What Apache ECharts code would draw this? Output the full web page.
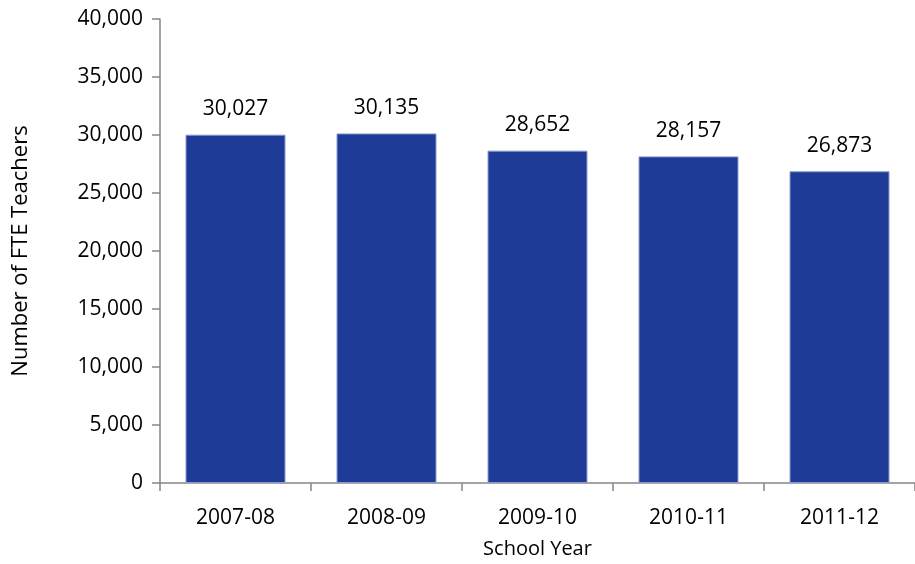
<!DOCTYPE html>
<html>
<head>
<meta charset="utf-8">
<script src="https://cdn.jsdelivr.net/npm/echarts@6/dist/echarts.min.js"></script>
<style>
html, body { margin: 0; padding: 0; background: #fff; }
#chart { width: 915px; height: 564px; }
</style>
</head>
<body>
<div id="chart"></div>
<script>
var schoolYears = ['2007-08', '2008-09', '2009-10', '2010-11', '2011-12'];
var fteTeachers = [30027, 30135, 28652, 28157, 26873];

var chart = echarts.init(document.getElementById('chart'));
var fontFam = '"Open Sans", "Liberation Sans", sans-serif';

var option = {
	backgroundColor: '#ffffff',
	animation: false,
	grid: {
		left: 160,
		right: 0,
		top: 19,
		bottom: 81,
		containLabel: false,
		outerBoundsMode: 'none'
	},
	xAxis: {
		type: 'category',
		data: schoolYears,
		name: 'School Year',
		nameLocation: 'middle',
		nameGap: 56,
		nameTextStyle: { color: '#000', fontSize: 20, fontFamily: fontFam },
		axisLine: { lineStyle: { color: '#868686', width: 1.5 } },
		axisTick: { show: true, length: 8, alignWithLabel: false, lineStyle: { color: '#868686', width: 1.5 } },
		axisLabel: { color: '#000', fontSize: 21, fontFamily: fontFam, margin: 25 }
	},
	yAxis: {
		type: 'value',
		min: 0,
		max: 40000,
		interval: 5000,
		name: 'Number of FTE Teachers',
		nameLocation: 'middle',
		nameGap: 128,
		nameTextStyle: { color: '#000', fontSize: 22, fontFamily: fontFam },
		splitLine: { show: false },
		axisLine: { show: true, lineStyle: { color: '#868686', width: 1.5 } },
		axisTick: { show: true, length: 8, lineStyle: { color: '#868686', width: 1.5 } },
		axisLabel: {
			color: '#000',
			fontSize: 21,
			fontFamily: fontFam,
			margin: 17,
			formatter: function (v) { return v.toLocaleString('en-US'); }
		}
	},
	series: [
		{
			type: 'bar',
			data: fteTeachers,
			barWidth: 100,
			itemStyle: {
				color: '#1F3B98',
				borderColor: '#8C9BCC',
				borderWidth: 1
			},
			label: {
				show: true,
				position: 'top',
				distance: 15,
				color: '#000',
				fontSize: 21,
				fontFamily: fontFam,
				formatter: function (p) { return p.value.toLocaleString('en-US'); }
			}
		}
	]
};
chart.setOption(option);
</script>
</body>
</html>
